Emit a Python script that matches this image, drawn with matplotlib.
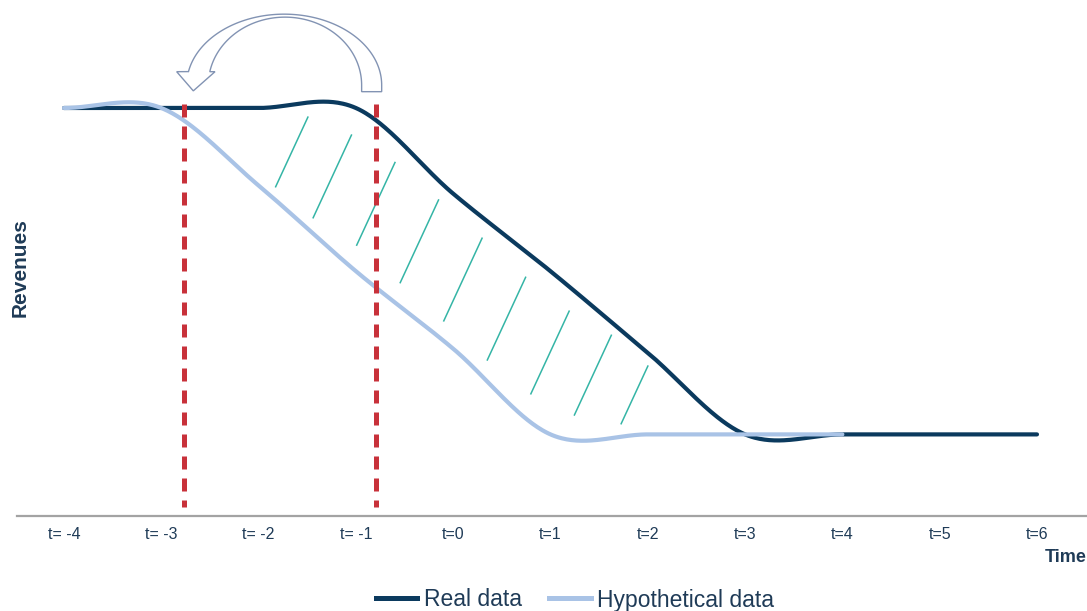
import numpy as np
import matplotlib
matplotlib.use("Agg")
import matplotlib.pyplot as plt
from matplotlib.path import Path
from matplotlib.patches import PathPatch
from matplotlib.lines import Line2D

plt.rcParams['font.family'] = ['Liberation Sans', 'DejaVu Sans']

# ---- data -------------------------------------------------------------
periods = [-4, -3, -2, -1, 0, 1, 2, 3, 4, 5, 6]
tick_labels = ["t= -4", "t= -3", "t= -2", "t= -1", "t=0", "t=1",
               "t=2", "t=3", "t=4", "t=5", "t=6"]
real_revenue = [100, 100, 100, 100, 79, 60, 40, 20, 20, 20, 20]

hypothetical_periods = [-4, -3, -2, -1, 0, 1, 2, 3, 4]
hypothetical_revenue = [100, 100, 81, 60, 41, 20, 20, 20, 20]

event_lines = [-2.77, -0.79]

NAVY = '#0b3a5e'
LIGHT = '#a9c3e6'
RED = '#c8313a'
TEAL = '#35b5a6'
TEXT = '#1f3b57'


def spline_eval(x, y, tq):
    """Catmull-Rom style smoothed line (as in spreadsheet 'smoothed lines')."""
    x = np.asarray(x, float)
    y = np.asarray(y, float)
    m = np.empty_like(y)
    m[1:-1] = (y[2:] - y[:-2]) / 2.0
    m[0] = (y[1] - y[0]) / 2.0
    m[-1] = (y[-1] - y[-2]) / 2.0
    tq = np.atleast_1d(np.asarray(tq, float))
    idx = np.clip(np.searchsorted(x, tq, side='right') - 1, 0, len(x) - 2)
    h = x[idx + 1] - x[idx]
    s = (tq - x[idx]) / h
    h00 = 2 * s**3 - 3 * s**2 + 1
    h10 = s**3 - 2 * s**2 + s
    h01 = -2 * s**3 + 3 * s**2
    h11 = s**3 - s**2
    return h00 * y[idx] + h10 * m[idx] * h + h01 * y[idx + 1] + h11 * m[idx + 1] * h


def smooth_curve(x, y, n=60):
    tt = np.linspace(x[0], x[-1], (len(x) - 1) * n + 1)
    return tt, spline_eval(x, y, tt)


fig = plt.figure(figsize=(10.87, 6.11), dpi=100)
ax = fig.add_axes([17 / 1087, 95 / 611, 1 - 17 / 1087, 1 - 95 / 611])
ax.set_xlim(-4.483, 6.514)
ax.set_ylim(0, 126.47)

# ---- diagonal strokes marking the gap between the two curves ----------
real_f = lambda t: spline_eval(periods, real_revenue, t)
hyp_f = lambda t: spline_eval(hypothetical_periods, hypothetical_revenue, t)
margin = 3.0
for c in np.linspace(-1.69, 1.89, 9):
    mid = (real_f(c)[0] + hyp_f(c)[0]) / 2.0
    s = np.linspace(-1, 1, 401)
    tt = c + s * 0.2
    vv = mid + s * 10.3
    inside = (vv < real_f(tt) - margin) & (vv > hyp_f(tt) + margin)
    if inside.any():
        ax.plot(tt[inside], vv[inside], color=TEAL, lw=1.1, zorder=1,
                solid_capstyle='butt')

# ---- revenue curves ---------------------------------------------------
tx, ty = smooth_curve(periods, real_revenue)
ax.plot(tx, ty, color=NAVY, lw=3.0, zorder=2, solid_capstyle='round')
hx, hy = smooth_curve(hypothetical_periods, hypothetical_revenue)
ax.plot(hx, hy, color=LIGHT, lw=3.0, zorder=3, solid_capstyle='round')

# ---- event markers ----------------------------------------------------
for t in event_lines:
    ln, = ax.plot([t, t], [101.0, 2.2], color=RED, lw=3.6, zorder=4,
                  solid_capstyle='butt')
    ln.set_dashes((2.6, 1.8))

# ---- curved hollow arrow pointing back in time ------------------------
oc, oa, ob = (-1.737, 105.6), 1.002, 17.4
ic, ia, ib = (-1.729, 105.6), 0.788, 16.67
th_o = np.linspace(0, np.deg2rad(169), 120)
th_i = np.linspace(np.deg2rad(168.6), 0, 120)
verts = [(oc[0] + oa, 104.0)]
verts += list(zip(oc[0] + oa * np.cos(th_o), oc[1] + ob * np.sin(th_o)))
verts += [(-2.842, 108.9), (-2.671, 104.2), (-2.448, 108.9)]
verts += list(zip(ic[0] + ia * np.cos(th_i), ic[1] + ib * np.sin(th_i)))
verts += [(ic[0] + ia, 104.0), (oc[0] + oa, 104.0)]
codes = [Path.MOVETO] + [Path.LINETO] * (len(verts) - 2) + [Path.CLOSEPOLY]
ax.add_patch(PathPatch(Path(verts, codes), facecolor='white',
                       edgecolor='#8293b3', lw=1.0, zorder=5))

# ---- axes styling -----------------------------------------------------
for side in ('top', 'right', 'left'):
    ax.spines[side].set_visible(False)
ax.spines['bottom'].set_color('#a3a3a3')
ax.spines['bottom'].set_linewidth(1.6)
ax.set_yticks([])
ax.set_xticks(periods)
ax.set_xticklabels(tick_labels, fontsize=11.5, color=TEXT)
ax.tick_params(axis='x', length=0, pad=8)

fig.text(1.0, 1 - 557 / 611, 'Time', ha='right', va='center',
         fontsize=13, fontweight='bold', color=TEXT)
fig.text(20 / 1087, 1 - 268 / 611, 'Revenues', rotation=90, ha='center',
         va='center', fontsize=15, fontweight='bold', color=TEXT)

handles = [Line2D([], [], color=NAVY, lw=3.6),
           Line2D([], [], color=LIGHT, lw=3.6)]
fig.legend(handles, ['Real data', 'Hypothetical data'], loc='center',
           bbox_to_anchor=(575 / 1087, 1 - 600 / 611), ncol=2, frameon=False,
           fontsize=16.5, handlelength=1.8, handletextpad=0.3,
           columnspacing=1.2, labelcolor=TEXT, borderpad=0)

fig.savefig('out.png', dpi=100)
